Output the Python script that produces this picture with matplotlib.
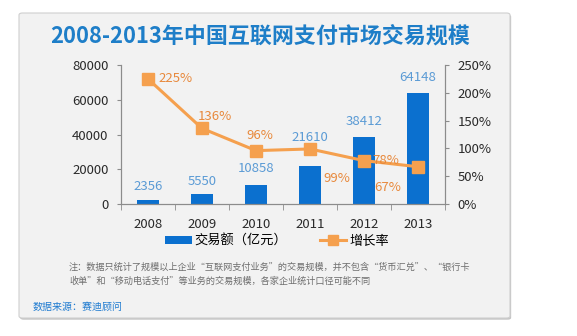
import matplotlib
matplotlib.use("Agg")
import matplotlib.pyplot as plt
from matplotlib.patches import FancyBboxPatch, Patch
from matplotlib.lines import Line2D
from matplotlib.ticker import FuncFormatter, MultipleLocator

plt.rcParams['font.family'] = ['Noto Sans CJK SC', 'DejaVu Sans']
plt.rcParams['axes.unicode_minus'] = False

# data
years = ['2008', '2009', '2010', '2011', '2012', '2013']
volume = [2356, 5550, 10858, 21610, 38412, 64148]      # 交易额（亿元）
growth = [2.25, 1.36, 0.96, 0.99, 0.78, 0.67]          # 增长率
growth_labels = ['225%', '136%', '96%', '99%', '78%', '67%']

# label offsets (points)
bar_lab_dy = [10, 9.4, 12, 21, 11.5, 11]
line_lab_off = [(20, 0), (9.4, 8.6), (3, 11), (19.5, -21), (16, 0), (-21.6, -15)]

bar_color = '#0b70cf'
line_color = '#f5a04e'
bar_text = '#5b9bd5'
line_text = '#e8893c'
axis_grey = '#8c8c8c'

fig = plt.figure(figsize=(5.77, 3.36), dpi=100)
fig.patch.set_facecolor('white')

# panel with a soft shadow
x0, y0, w, h = 19 / 577, 18 / 336, 491 / 577, 305 / 336
shadow = FancyBboxPatch((x0 + 0.002, y0 - 0.005), w, h, boxstyle='round,pad=0,rounding_size=0.006',
                        transform=fig.transFigure, facecolor='#c4c4c4', edgecolor='none', zorder=-2)
panel = FancyBboxPatch((x0, y0), w, h, boxstyle='round,pad=0,rounding_size=0.006',
                       transform=fig.transFigure, facecolor='#f2f2f2', edgecolor='#cfcfcf', lw=0.8, zorder=-1)
fig.patches.extend([shadow, panel])

fig.text(260 / 577, (336 - 36.5) / 336, '2008-2013年中国互联网支付市场交易规模',
         ha='center', va='center', fontsize=15.8, fontweight='bold', color='#1e7ec8')

ax = fig.add_axes([121 / 577, 132 / 336, 324 / 577, 139 / 336])
ax.set_facecolor('none')
x = range(len(years))
ax.bar(x, volume, width=0.39, color=bar_color, zorder=2)
ax.set_xlim(-0.5, 5.5)
ax.set_ylim(0, 80000)
ax.yaxis.set_major_locator(MultipleLocator(20000))
ax.set_xticks(list(x))
ax.set_xticklabels(years)
ax.set_xticks([i - 0.5 for i in range(len(years) + 1)], minor=True)
ax.tick_params(axis='x', which='major', length=0, pad=10, labelsize=9.5, colors='#2a2a2a')
ax.tick_params(axis='x', which='minor', length=4, direction='out', color=axis_grey)
ax.tick_params(axis='y', length=3, direction='out', pad=6, labelsize=9.5, color=axis_grey, labelcolor='#2a2a2a')
ax.spines['top'].set_visible(False)
for s in ['left', 'bottom', 'right']:
    ax.spines[s].set_color(axis_grey)
    ax.spines[s].set_linewidth(0.8)

for i, v in enumerate(volume):
    ax.annotate(str(v), (i, v), xytext=(0, bar_lab_dy[i]), textcoords='offset points',
                ha='center', va='center', fontsize=9.5, color=bar_text)

ax2 = ax.twinx()
ax2.set_facecolor('none')
ax2.plot(x, growth, color=line_color, lw=2.2, marker='s', markersize=8, zorder=3)
ax2.set_ylim(0, 2.5)
ax2.yaxis.set_major_locator(MultipleLocator(0.5))
ax2.yaxis.set_major_formatter(FuncFormatter(lambda v, p: f'{v * 100:.0f}%'))
ax2.tick_params(axis='y', length=3, direction='out', pad=6, labelsize=9.5, color=axis_grey, labelcolor='#2a2a2a')
ax2.spines['top'].set_visible(False)
for s in ['left', 'bottom', 'right']:
    ax2.spines[s].set_color(axis_grey)
    ax2.spines[s].set_linewidth(0.8)

for i, g in enumerate(growth):
    ax2.annotate(growth_labels[i], (i, g), xytext=line_lab_off[i], textcoords='offset points',
                 ha='center', va='center', fontsize=9.5, color=line_text)

handles = [Patch(facecolor=bar_color, edgecolor='none'),
           Line2D([], [], color=line_color, lw=2.2, marker='s', markersize=7)]
fig.legend(handles, ['交易额（亿元）', '增长率'], loc='center', bbox_to_anchor=(277 / 577, 95 / 336),
           ncol=2, frameon=False, fontsize=9.5, handlelength=2, handleheight=0.5,
           handletextpad=0.2, columnspacing=2.5)

note_color = '#6e6e6e'
fig.text(69 / 577, (336 - 267) / 336,
         '注：数据只统计了规模以上企业“互联网支付业务”的交易规模，并不包含“货币汇兑”、“银行卡',
         ha='left', va='center', fontsize=6.6, color=note_color)
fig.text(69 / 577, (336 - 281) / 336,
         '收单”和“移动电话支付”等业务的交易规模，各家企业统计口径可能不同',
         ha='left', va='center', fontsize=6.6, color=note_color)

fig.text(33 / 577, (336 - 307) / 336, '数据来源：赛迪顾问', ha='left', va='center',
         fontsize=7.2, color='#1f7bd0')

plt.savefig('out.png', dpi=100, facecolor='white')
plt.close()
